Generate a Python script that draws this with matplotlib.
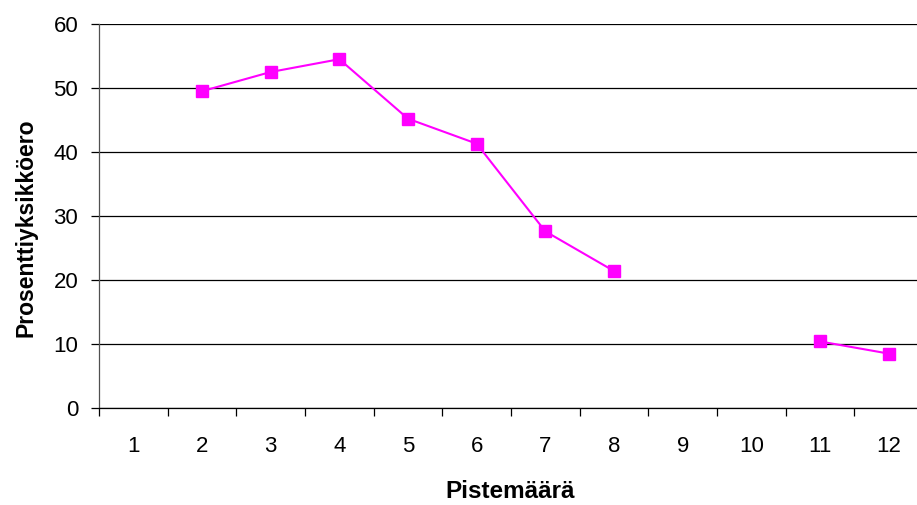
import numpy as np
import matplotlib as mpl
mpl.use('Agg')
import matplotlib.pyplot as plt

plt.rcParams['font.family'] = ['Liberation Sans', 'DejaVu Sans']

# Points scored vs. percentage-point difference (gaps where no data)
categories = ['1', '2', '3', '4', '5', '6', '7', '8', '9', '10', '11', '12']
values = [np.nan, 49.5, 52.5, 54.5, 45.2, 41.3, 27.6, 21.4, np.nan, np.nan, 10.4, 8.5]
y_ticks = [0, 10, 20, 30, 40, 50, 60]


def plot_chart(fname_out):
    fig = plt.figure(figsize=(9.17, 5.05), dpi=100)
    # plot area runs slightly past the right edge of the figure
    ax = fig.add_axes([99 / 917, (505 - 408) / 505, 824 / 917, 384 / 505])

    x = np.arange(len(categories))
    ax.plot(x, values, color='#FF00FF', lw=1.5, marker='s', ms=8.5,
            markeredgecolor='#FF00FF', zorder=3, clip_on=False)

    ax.set_xlim(-0.5, len(categories) - 0.5)
    ax.set_ylim(0, 60)
    ax.set_yticks(y_ticks)
    ax.yaxis.grid(True, color='black', lw=0.9)
    ax.set_axisbelow(True)

    ax.set_xticks(x)
    ax.set_xticklabels(categories)
    ax.set_xticks(np.arange(-0.5, len(categories)), minor=True)
    ax.tick_params(axis='x', which='major', length=0, pad=20, labelsize=16)
    ax.tick_params(axis='x', which='minor', length=6, width=0.9, direction='out',
                   color='black')
    ax.tick_params(axis='y', length=6, width=0.9, color='black', pad=9,
                   labelsize=16)

    for side in ['top', 'right']:
        ax.spines[side].set_visible(False)
    ax.spines['left'].set_color('#505050')
    ax.spines['left'].set_linewidth(0.9)
    ax.spines['bottom'].set_linewidth(0.9)

    fig.text(26 / 917, 1 - 228 / 505, 'Prosenttiyksikköero', rotation=90,
             ha='center', va='center', fontsize=16.5, fontweight='bold')
    fig.text(510 / 917, 1 - 492 / 505, 'Pistemäärä', ha='center', va='center',
             fontsize=17.5, fontweight='bold')

    fig.savefig(fname_out, dpi=100)
    plt.close(fig)


if __name__ == '__main__':
    plot_chart('out.png')
